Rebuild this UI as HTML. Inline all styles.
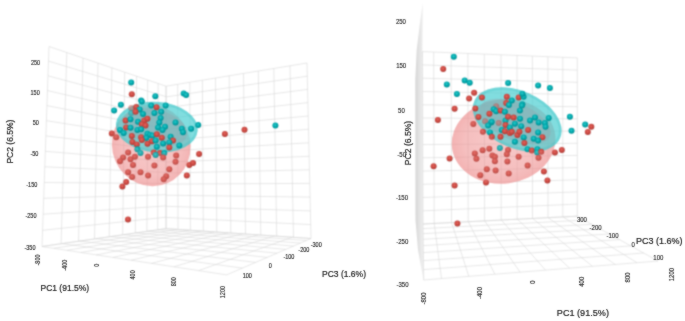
<!DOCTYPE html>
<html><head><meta charset="utf-8"><style>
html,body{margin:0;padding:0;background:#fff;width:685px;height:321px;overflow:hidden}
svg{display:block}
text{font-family:"Liberation Sans",sans-serif;fill:#222}
.tk{fill:#2a2a2a;stroke:#2a2a2a;stroke-width:0.15}
.ax{fill:#222;stroke:#222;stroke-width:0.2}
</style></head><body>
<svg width="685" height="321" viewBox="0 0 685 321">
<defs>
<radialGradient id="gr" cx="0.45" cy="0.4" r="0.6"><stop offset="0" stop-color="#e0625b"/><stop offset="0.55" stop-color="#cc4a43"/><stop offset="1" stop-color="#ab3b35"/></radialGradient>
<radialGradient id="gt" cx="0.45" cy="0.4" r="0.6"><stop offset="0" stop-color="#2cc6c6"/><stop offset="0.55" stop-color="#00aaae"/><stop offset="1" stop-color="#008a8e"/></radialGradient>
<linearGradient id="sl" x1="0" y1="0" x2="1" y2="0"><stop offset="0" stop-color="#d6d6d6"/><stop offset="1" stop-color="#f2f2f2"/></linearGradient>
<clipPath id="cl1"><ellipse cx="156.8" cy="127.3" rx="41" ry="25.3" transform="rotate(4.5 156.8 127.3)" /></clipPath><clipPath id="cr1"><ellipse cx="517.2" cy="119.5" rx="46.7" ry="28.7" transform="rotate(23.4 517.2 119.5)" /></clipPath><mask id="pm" maskUnits="userSpaceOnUse" x="0" y="0" width="685" height="321"><ellipse cx="151.2" cy="145.5" rx="39" ry="41" transform="rotate(-23 151.2 145.5)" fill="#fff"/><ellipse cx="503.6" cy="141.4" rx="52" ry="42.2" transform="rotate(-7.3 503.6 141.4)" fill="#fff"/><ellipse cx="156.8" cy="127.3" rx="41" ry="25.3" transform="rotate(4.5 156.8 127.3)" fill="#000"/><ellipse cx="517.2" cy="119.5" rx="46.7" ry="28.7" transform="rotate(23.4 517.2 119.5)" fill="#000"/></mask>
<radialGradient id="pg" cx="0.5" cy="0.5" r="0.5"><stop offset="0" stop-color="#EC7D7D" stop-opacity="0.37"/><stop offset="0.75" stop-color="#EC7D7D" stop-opacity="0.47"/><stop offset="1" stop-color="#EC7D7D" stop-opacity="0.57"/></radialGradient>
<filter id="bl" x="0" y="0" width="1" height="1" color-interpolation-filters="sRGB"><feConvolveMatrix order="3" kernelMatrix="1 2 1 2 6 2 1 2 1" edgeMode="duplicate"/></filter>
<filter id="bl2" x="-0.1" y="-0.1" width="1.2" height="1.2" color-interpolation-filters="sRGB"><feConvolveMatrix order="3" kernelMatrix="1 2 1 2 30 2 1 2 1" edgeMode="none"/></filter>
</defs>
<rect width="685" height="321" fill="#fff"/>
<g filter="url(#bl)">
<rect width="685" height="321" fill="#fff"/>
<polygon points="422.8,2.8 419.7,25 416.7,50 415.3,80 415.5,220 418,250 423.7,281 423,224 422.5,51.6" fill="url(#sl)"/>
<g stroke="#d4d4d4" stroke-width="0.55"><line x1="49.0" y1="46.5" x2="42.0" y2="246.5"/>
<line x1="66.8" y1="52.5" x2="61.1" y2="243.7"/>
<line x1="83.0" y1="58.1" x2="78.5" y2="241.2"/>
<line x1="98.0" y1="63.1" x2="94.5" y2="238.9"/>
<line x1="111.9" y1="67.8" x2="109.2" y2="236.8"/>
<line x1="124.7" y1="72.2" x2="122.7" y2="234.8"/>
<line x1="136.6" y1="76.2" x2="135.3" y2="233.0"/>
<line x1="147.7" y1="80.0" x2="146.9" y2="231.4"/>
<line x1="158.1" y1="83.5" x2="157.7" y2="229.8"/>
<line x1="166.0" y1="86.2" x2="166.0" y2="228.6"/>
<line x1="49.0" y1="46.5" x2="166.0" y2="86.2"/>
<line x1="48.5" y1="61.1" x2="166.0" y2="96.7"/>
<line x1="48.0" y1="75.8" x2="166.0" y2="107.4"/>
<line x1="47.5" y1="90.6" x2="166.0" y2="118.0"/>
<line x1="46.9" y1="105.6" x2="166.0" y2="128.8"/>
<line x1="46.4" y1="120.7" x2="166.0" y2="139.6"/>
<line x1="45.9" y1="135.9" x2="166.0" y2="150.5"/>
<line x1="45.3" y1="151.3" x2="166.0" y2="161.4"/>
<line x1="44.8" y1="166.8" x2="166.0" y2="172.4"/>
<line x1="44.2" y1="182.5" x2="166.0" y2="183.5"/>
<line x1="43.7" y1="198.3" x2="166.0" y2="194.7"/>
<line x1="43.1" y1="214.2" x2="166.0" y2="205.9"/>
<line x1="42.6" y1="230.3" x2="166.0" y2="217.2"/>
<line x1="42.0" y1="246.5" x2="166.0" y2="228.6"/>
<line x1="166.0" y1="86.2" x2="166.0" y2="228.6"/>
<line x1="177.7" y1="84.3" x2="178.0" y2="229.4"/>
<line x1="189.8" y1="82.3" x2="190.4" y2="230.3"/>
<line x1="202.4" y1="80.2" x2="203.3" y2="231.1"/>
<line x1="215.5" y1="78.0" x2="216.8" y2="232.1"/>
<line x1="229.2" y1="75.8" x2="230.8" y2="233.0"/>
<line x1="243.5" y1="73.5" x2="245.5" y2="234.0"/>
<line x1="258.3" y1="71.0" x2="260.8" y2="235.1"/>
<line x1="273.8" y1="68.5" x2="276.7" y2="236.2"/>
<line x1="290.0" y1="65.8" x2="293.5" y2="237.3"/>
<line x1="307.0" y1="63.0" x2="311.0" y2="238.5"/>
<line x1="166.0" y1="86.2" x2="307.0" y2="63.0"/>
<line x1="166.0" y1="96.9" x2="307.3" y2="76.2"/>
<line x1="166.0" y1="107.7" x2="307.6" y2="89.4"/>
<line x1="166.0" y1="118.5" x2="307.9" y2="102.6"/>
<line x1="166.0" y1="129.3" x2="308.2" y2="116.0"/>
<line x1="166.0" y1="140.2" x2="308.5" y2="129.3"/>
<line x1="166.0" y1="151.1" x2="308.8" y2="142.8"/>
<line x1="166.0" y1="162.1" x2="309.1" y2="156.3"/>
<line x1="166.0" y1="173.1" x2="309.4" y2="169.8"/>
<line x1="166.0" y1="184.1" x2="309.7" y2="183.4"/>
<line x1="166.0" y1="195.2" x2="310.1" y2="197.1"/>
<line x1="166.0" y1="206.3" x2="310.4" y2="210.9"/>
<line x1="166.0" y1="217.4" x2="310.7" y2="224.6"/>
<line x1="166.0" y1="228.6" x2="311.0" y2="238.5"/>
<line x1="166.0" y1="228.6" x2="42.0" y2="246.5"/>
<line x1="177.1" y1="229.4" x2="54.0" y2="248.3"/>
<line x1="188.9" y1="230.2" x2="67.0" y2="250.3"/>
<line x1="201.2" y1="231.0" x2="81.0" y2="252.5"/>
<line x1="214.3" y1="231.9" x2="96.3" y2="254.9"/>
<line x1="228.1" y1="232.8" x2="113.0" y2="257.4"/>
<line x1="242.7" y1="233.8" x2="131.3" y2="260.2"/>
<line x1="258.2" y1="234.9" x2="151.5" y2="263.4"/>
<line x1="274.7" y1="236.0" x2="173.9" y2="266.8"/>
<line x1="292.3" y1="237.2" x2="198.7" y2="270.6"/>
<line x1="311.0" y1="238.5" x2="226.6" y2="274.9"/>
<line x1="42.0" y1="246.5" x2="226.6" y2="274.9"/>
<line x1="61.9" y1="243.6" x2="242.3" y2="268.1"/>
<line x1="79.8" y1="241.0" x2="255.6" y2="262.4"/>
<line x1="95.9" y1="238.7" x2="267.1" y2="257.4"/>
<line x1="110.6" y1="236.6" x2="277.0" y2="253.2"/>
<line x1="124.1" y1="234.7" x2="285.8" y2="249.4"/>
<line x1="136.4" y1="232.9" x2="293.5" y2="246.1"/>
<line x1="147.7" y1="231.2" x2="300.3" y2="243.1"/>
<line x1="158.1" y1="229.7" x2="306.5" y2="240.5"/>
<line x1="166.0" y1="228.6" x2="311.0" y2="238.5"/>
<line x1="422.5" y1="51.6" x2="423.0" y2="224.0"/>
<line x1="433.7" y1="52.1" x2="434.2" y2="223.4"/>
<line x1="451.1" y1="52.8" x2="451.5" y2="222.6"/>
<line x1="467.9" y1="53.4" x2="468.2" y2="221.7"/>
<line x1="484.3" y1="54.1" x2="484.6" y2="220.9"/>
<line x1="501.0" y1="54.8" x2="501.2" y2="220.0"/>
<line x1="517.0" y1="55.4" x2="517.2" y2="219.2"/>
<line x1="532.4" y1="56.1" x2="532.5" y2="218.5"/>
<line x1="547.9" y1="56.7" x2="548.0" y2="217.7"/>
<line x1="562.8" y1="57.3" x2="562.8" y2="216.9"/>
<line x1="577.3" y1="57.9" x2="577.3" y2="216.2"/>
<line x1="422.5" y1="51.6" x2="577.3" y2="57.9"/>
<line x1="422.5" y1="64.9" x2="577.3" y2="70.1"/>
<line x1="422.6" y1="78.2" x2="577.3" y2="82.3"/>
<line x1="422.6" y1="91.5" x2="577.3" y2="94.5"/>
<line x1="422.7" y1="104.8" x2="577.3" y2="106.7"/>
<line x1="422.7" y1="118.0" x2="577.3" y2="118.9"/>
<line x1="422.7" y1="131.3" x2="577.3" y2="131.1"/>
<line x1="422.8" y1="144.6" x2="577.3" y2="143.3"/>
<line x1="422.8" y1="157.8" x2="577.3" y2="155.4"/>
<line x1="422.8" y1="171.1" x2="577.3" y2="167.6"/>
<line x1="422.9" y1="184.3" x2="577.3" y2="179.8"/>
<line x1="422.9" y1="197.5" x2="577.3" y2="191.9"/>
<line x1="423.0" y1="210.8" x2="577.3" y2="204.1"/>
<line x1="423.0" y1="224.0" x2="577.3" y2="216.2"/>
<line x1="423.0" y1="224.0" x2="423.7" y2="280.0"/>
<line x1="434.2" y1="223.4" x2="441.5" y2="278.6"/>
<line x1="451.6" y1="222.6" x2="468.8" y2="276.3"/>
<line x1="468.3" y1="221.7" x2="494.9" y2="274.2"/>
<line x1="484.7" y1="220.9" x2="520.1" y2="272.2"/>
<line x1="501.3" y1="220.0" x2="545.5" y2="270.1"/>
<line x1="517.3" y1="219.2" x2="569.6" y2="268.2"/>
<line x1="532.6" y1="218.5" x2="592.5" y2="266.3"/>
<line x1="548.1" y1="217.7" x2="615.3" y2="264.5"/>
<line x1="562.9" y1="216.9" x2="637.0" y2="262.7"/>
<line x1="577.3" y1="216.2" x2="658.0" y2="261.0"/>
<line x1="423.0" y1="224.0" x2="577.3" y2="216.2"/>
<line x1="423.1" y1="228.6" x2="584.2" y2="220.1"/>
<line x1="423.1" y1="233.7" x2="591.8" y2="224.3"/>
<line x1="423.2" y1="239.3" x2="600.1" y2="228.9"/>
<line x1="423.3" y1="245.6" x2="609.3" y2="234.0"/>
<line x1="423.4" y1="252.6" x2="619.5" y2="239.6"/>
<line x1="423.5" y1="260.6" x2="630.9" y2="245.9"/>
<line x1="423.6" y1="269.6" x2="643.6" y2="253.0"/>
<line x1="423.7" y1="280.0" x2="658.0" y2="261.0"/></g>
<ellipse cx="151.2" cy="145.5" rx="39" ry="41" transform="rotate(-23 151.2 145.5)" fill="url(#pg)"/><ellipse cx="503.6" cy="141.4" rx="52" ry="42.2" transform="rotate(-7.3 503.6 141.4)" fill="url(#pg)"/>
<ellipse cx="156.8" cy="127.3" rx="39.6" ry="23.900000000000002" transform="rotate(4.5 156.8 127.3)" fill="none" stroke="#1aa9ad" stroke-width="2.8" stroke-opacity="0.25"/><ellipse cx="517.2" cy="119.5" rx="45.300000000000004" ry="27.3" transform="rotate(23.4 517.2 119.5)" fill="none" stroke="#1aa9ad" stroke-width="2.8" stroke-opacity="0.25"/><ellipse cx="156.8" cy="127.3" rx="41" ry="25.3" transform="rotate(4.5 156.8 127.3)" fill="#45cdd0" fill-opacity="0.68"/><g clip-path="url(#cl1)"><ellipse cx="155" cy="127.5" rx="33" ry="18" transform="rotate(14 155 127.5)" fill="#9a9aa5" fill-opacity="0.32"/></g><ellipse cx="517.2" cy="119.5" rx="46.7" ry="28.7" transform="rotate(23.4 517.2 119.5)" fill="#45cdd0" fill-opacity="0.68"/><g clip-path="url(#cr1)"><ellipse cx="515" cy="121.5" rx="38" ry="18.5" transform="rotate(23.4 515 121.5)" fill="#9a9aa5" fill-opacity="0.32"/></g>
<circle cx="131.2" cy="108.1" r="3.0" fill="url(#gr)" fill-opacity="0.5"/><circle cx="131.2" cy="113.1" r="3.0" fill="url(#gt)" fill-opacity="0.5"/><circle cx="496.2" cy="106.2" r="3.0" fill="url(#gr)" fill-opacity="0.5"/><circle cx="485.0" cy="121.2" r="3.0" fill="url(#gr)" fill-opacity="0.5"/><circle cx="498.7" cy="123.1" r="3.0" fill="url(#gr)" fill-opacity="0.5"/>
<circle cx="131.2" cy="82.5" r="3.0" fill="url(#gt)"/>
<circle cx="131.8" cy="94.3" r="3.0" fill="url(#gr)"/>
<circle cx="141.1" cy="100.5" r="3.0" fill="url(#gt)"/>
<circle cx="120.9" cy="104.7" r="3.0" fill="url(#gt)"/>
<circle cx="114.1" cy="110.6" r="3.0" fill="url(#gt)"/>
<circle cx="141.8" cy="101.5" r="3.0" fill="url(#gt)"/>
<circle cx="136.2" cy="106.9" r="3.0" fill="url(#gr)"/>
<circle cx="139.7" cy="109.4" r="3.0" fill="url(#gt)"/>
<circle cx="135.5" cy="111.8" r="3.0" fill="url(#gr)"/>
<circle cx="143.0" cy="114.0" r="3.0" fill="url(#gt)"/>
<circle cx="151.2" cy="105.6" r="3.0" fill="url(#gt)"/>
<circle cx="125.6" cy="120.6" r="3.0" fill="url(#gr)"/>
<circle cx="130.5" cy="119.3" r="3.0" fill="url(#gt)"/>
<circle cx="138.0" cy="121.8" r="3.0" fill="url(#gt)"/>
<circle cx="144.3" cy="120.6" r="3.0" fill="url(#gr)"/>
<circle cx="147.4" cy="118.7" r="3.0" fill="url(#gr)"/>
<circle cx="141.8" cy="124.3" r="3.0" fill="url(#gr)"/>
<circle cx="145.5" cy="125.6" r="3.0" fill="url(#gr)"/>
<circle cx="126.2" cy="127.4" r="3.0" fill="url(#gr)"/>
<circle cx="130.5" cy="127.7" r="3.0" fill="url(#gt)"/>
<circle cx="120.0" cy="129.9" r="3.0" fill="url(#gt)"/>
<circle cx="123.7" cy="133.0" r="3.0" fill="url(#gt)"/>
<circle cx="137.4" cy="129.9" r="3.0" fill="url(#gt)"/>
<circle cx="141.1" cy="129.3" r="3.0" fill="url(#gt)"/>
<circle cx="111.8" cy="133.4" r="3.0" fill="url(#gr)"/>
<circle cx="116.2" cy="137.2" r="3.0" fill="url(#gr)"/>
<circle cx="131.8" cy="135.9" r="3.0" fill="url(#gr)"/>
<circle cx="141.1" cy="137.2" r="3.0" fill="url(#gr)"/>
<circle cx="147.4" cy="133.7" r="3.0" fill="url(#gt)"/>
<circle cx="155.3" cy="96.2" r="3.0" fill="url(#gt)"/>
<circle cx="183.7" cy="93.5" r="3.0" fill="url(#gt)"/>
<circle cx="186.1" cy="95.0" r="3.0" fill="url(#gt)"/>
<circle cx="156.5" cy="107.2" r="3.0" fill="url(#gr)"/>
<circle cx="165.6" cy="105.6" r="3.0" fill="url(#gt)"/>
<circle cx="154.4" cy="113.0" r="3.0" fill="url(#gt)"/>
<circle cx="161.2" cy="111.8" r="3.0" fill="url(#gt)"/>
<circle cx="160.6" cy="118.0" r="3.0" fill="url(#gt)"/>
<circle cx="159.3" cy="122.5" r="3.0" fill="url(#gt)"/>
<circle cx="158.1" cy="127.5" r="3.0" fill="url(#gt)"/>
<circle cx="165.0" cy="126.8" r="3.0" fill="url(#gt)"/>
<circle cx="162.5" cy="130.0" r="3.0" fill="url(#gt)"/>
<circle cx="175.5" cy="122.5" r="3.0" fill="url(#gt)"/>
<circle cx="181.8" cy="128.7" r="3.0" fill="url(#gt)"/>
<circle cx="183.0" cy="132.2" r="3.0" fill="url(#gt)"/>
<circle cx="191.1" cy="128.7" r="3.0" fill="url(#gt)"/>
<circle cx="150.0" cy="134.9" r="3.0" fill="url(#gt)"/>
<circle cx="152.5" cy="135.6" r="3.0" fill="url(#gt)"/>
<circle cx="156.8" cy="134.3" r="3.0" fill="url(#gr)"/>
<circle cx="161.8" cy="137.7" r="3.0" fill="url(#gr)"/>
<circle cx="146.2" cy="138.0" r="3.0" fill="url(#gt)"/>
<circle cx="151.9" cy="141.2" r="3.0" fill="url(#gr)"/>
<circle cx="155.6" cy="140.5" r="3.0" fill="url(#gt)"/>
<circle cx="170.6" cy="136.8" r="3.0" fill="url(#gt)"/>
<circle cx="173.0" cy="140.5" r="3.0" fill="url(#gr)"/>
<circle cx="169.3" cy="142.4" r="3.0" fill="url(#gt)"/>
<circle cx="163.1" cy="143.4" r="3.0" fill="url(#gt)"/>
<circle cx="156.8" cy="146.8" r="3.0" fill="url(#gt)"/>
<circle cx="179.3" cy="145.5" r="3.0" fill="url(#gt)"/>
<circle cx="169.3" cy="147.4" r="3.0" fill="url(#gr)"/>
<circle cx="147.5" cy="143.7" r="3.0" fill="url(#gr)"/>
<circle cx="132.4" cy="141.9" r="3.0" fill="url(#gr)"/>
<circle cx="136.8" cy="144.4" r="3.0" fill="url(#gr)"/>
<circle cx="137.4" cy="149.3" r="3.0" fill="url(#gt)"/>
<circle cx="140.5" cy="153.1" r="3.0" fill="url(#gt)"/>
<circle cx="128.1" cy="152.5" r="3.0" fill="url(#gr)"/>
<circle cx="123.1" cy="157.4" r="3.0" fill="url(#gr)"/>
<circle cx="120.0" cy="161.2" r="3.0" fill="url(#gr)"/>
<circle cx="130.5" cy="159.3" r="3.0" fill="url(#gr)"/>
<circle cx="134.9" cy="156.8" r="3.0" fill="url(#gr)"/>
<circle cx="133.0" cy="164.9" r="3.0" fill="url(#gr)"/>
<circle cx="148.0" cy="156.8" r="3.0" fill="url(#gr)"/>
<circle cx="128.1" cy="172.2" r="3.0" fill="url(#gr)"/>
<circle cx="140.5" cy="172.2" r="3.0" fill="url(#gr)"/>
<circle cx="141.8" cy="140.0" r="3.0" fill="url(#gr)"/>
<circle cx="153.7" cy="152.5" r="3.0" fill="url(#gr)"/>
<circle cx="160.0" cy="153.1" r="3.0" fill="url(#gr)"/>
<circle cx="164.3" cy="153.1" r="3.0" fill="url(#gt)"/>
<circle cx="155.6" cy="155.0" r="3.0" fill="url(#gt)"/>
<circle cx="163.1" cy="157.5" r="3.0" fill="url(#gr)"/>
<circle cx="176.2" cy="155.6" r="3.0" fill="url(#gr)"/>
<circle cx="175.5" cy="161.8" r="3.0" fill="url(#gr)"/>
<circle cx="154.4" cy="165.6" r="3.0" fill="url(#gr)"/>
<circle cx="169.3" cy="169.3" r="3.0" fill="url(#gr)"/>
<circle cx="189.3" cy="164.9" r="3.0" fill="url(#gr)"/>
<circle cx="193.0" cy="163.1" r="3.0" fill="url(#gr)"/>
<circle cx="148.1" cy="175.5" r="3.0" fill="url(#gr)"/>
<circle cx="166.2" cy="176.2" r="3.0" fill="url(#gr)"/>
<circle cx="186.8" cy="175.5" r="3.0" fill="url(#gr)"/>
<circle cx="163.7" cy="179.3" r="3.0" fill="url(#gr)"/>
<circle cx="132.1" cy="177.1" r="3.0" fill="url(#gr)"/>
<circle cx="126.2" cy="182.1" r="3.0" fill="url(#gr)"/>
<circle cx="122.4" cy="186.4" r="3.0" fill="url(#gr)"/>
<circle cx="128.0" cy="219.5" r="3.0" fill="url(#gr)"/>
<circle cx="198.2" cy="125.1" r="3.0" fill="url(#gt)"/>
<circle cx="224.9" cy="134.0" r="3.0" fill="url(#gr)"/>
<circle cx="244.5" cy="129.8" r="3.0" fill="url(#gr)"/>
<circle cx="275.4" cy="125.6" r="3.0" fill="url(#gt)"/>
<circle cx="199.1" cy="154.0" r="3.0" fill="url(#gr)"/>
<circle cx="453.8" cy="56.7" r="3.0" fill="url(#gt)"/>
<circle cx="443.2" cy="69.1" r="3.0" fill="url(#gr)"/>
<circle cx="464.7" cy="80.5" r="3.0" fill="url(#gt)"/>
<circle cx="469.7" cy="82.8" r="3.0" fill="url(#gt)"/>
<circle cx="446.8" cy="84.4" r="3.0" fill="url(#gt)"/>
<circle cx="456.9" cy="94.0" r="3.0" fill="url(#gt)"/>
<circle cx="474.1" cy="92.8" r="3.0" fill="url(#gr)"/>
<circle cx="469.1" cy="98.6" r="3.0" fill="url(#gr)"/>
<circle cx="481.9" cy="97.5" r="3.0" fill="url(#gr)"/>
<circle cx="454.6" cy="108.7" r="3.0" fill="url(#gr)"/>
<circle cx="475.3" cy="108.4" r="3.0" fill="url(#gr)"/>
<circle cx="437.9" cy="120.0" r="3.0" fill="url(#gr)"/>
<circle cx="478.4" cy="116.9" r="3.0" fill="url(#gr)"/>
<circle cx="473.3" cy="123.9" r="3.0" fill="url(#gr)"/>
<circle cx="482.9" cy="131.7" r="3.0" fill="url(#gr)"/>
<circle cx="482.6" cy="150.2" r="3.0" fill="url(#gr)"/>
<circle cx="474.8" cy="153.4" r="3.0" fill="url(#gr)"/>
<circle cx="476.4" cy="158.8" r="3.0" fill="url(#gr)"/>
<circle cx="449.6" cy="158.5" r="3.0" fill="url(#gr)"/>
<circle cx="433.6" cy="166.3" r="3.0" fill="url(#gr)"/>
<circle cx="480.3" cy="175.2" r="3.0" fill="url(#gr)"/>
<circle cx="454.6" cy="185.6" r="3.0" fill="url(#gr)"/>
<circle cx="457.4" cy="223.6" r="3.0" fill="url(#gr)"/>
<circle cx="508.1" cy="83.1" r="3.0" fill="url(#gt)"/>
<circle cx="506.8" cy="96.8" r="3.0" fill="url(#gr)"/>
<circle cx="511.8" cy="100.6" r="3.0" fill="url(#gt)"/>
<circle cx="518.7" cy="97.4" r="3.0" fill="url(#gr)"/>
<circle cx="523.6" cy="96.8" r="3.0" fill="url(#gt)"/>
<circle cx="522.4" cy="93.7" r="3.0" fill="url(#gt)"/>
<circle cx="506.2" cy="103.1" r="3.0" fill="url(#gr)"/>
<circle cx="508.9" cy="104.9" r="3.0" fill="url(#gt)"/>
<circle cx="522.4" cy="104.3" r="3.0" fill="url(#gt)"/>
<circle cx="493.7" cy="109.3" r="3.0" fill="url(#gt)"/>
<circle cx="496.2" cy="111.2" r="3.0" fill="url(#gt)"/>
<circle cx="500.6" cy="110.5" r="3.0" fill="url(#gr)"/>
<circle cx="504.9" cy="111.8" r="3.0" fill="url(#gt)"/>
<circle cx="519.9" cy="110.5" r="3.0" fill="url(#gt)"/>
<circle cx="489.4" cy="113.7" r="3.0" fill="url(#gr)"/>
<circle cx="491.2" cy="122.5" r="3.0" fill="url(#gt)"/>
<circle cx="488.1" cy="125.6" r="3.0" fill="url(#gt)"/>
<circle cx="505.5" cy="120.6" r="3.0" fill="url(#gt)"/>
<circle cx="508.0" cy="116.8" r="3.0" fill="url(#gr)"/>
<circle cx="513.6" cy="117.5" r="3.0" fill="url(#gr)"/>
<circle cx="514.9" cy="123.7" r="3.0" fill="url(#gt)"/>
<circle cx="505.5" cy="125.0" r="3.0" fill="url(#gr)"/>
<circle cx="509.9" cy="127.4" r="3.0" fill="url(#gt)"/>
<circle cx="490.0" cy="132.4" r="3.0" fill="url(#gt)"/>
<circle cx="491.8" cy="136.8" r="3.0" fill="url(#gr)"/>
<circle cx="501.8" cy="129.9" r="3.0" fill="url(#gt)"/>
<circle cx="504.9" cy="131.2" r="3.0" fill="url(#gr)"/>
<circle cx="509.9" cy="133.1" r="3.0" fill="url(#gr)"/>
<circle cx="511.8" cy="131.8" r="3.0" fill="url(#gr)"/>
<circle cx="500.5" cy="136.8" r="3.0" fill="url(#gr)"/>
<circle cx="517.4" cy="134.9" r="3.0" fill="url(#gr)"/>
<circle cx="514.9" cy="141.8" r="3.0" fill="url(#gt)"/>
<circle cx="538.1" cy="85.6" r="3.0" fill="url(#gt)"/>
<circle cx="549.9" cy="88.1" r="3.0" fill="url(#gt)"/>
<circle cx="521.9" cy="105.6" r="3.0" fill="url(#gt)"/>
<circle cx="520.0" cy="118.7" r="3.0" fill="url(#gt)"/>
<circle cx="530.0" cy="120.5" r="3.0" fill="url(#gt)"/>
<circle cx="535.0" cy="117.4" r="3.0" fill="url(#gt)"/>
<circle cx="538.7" cy="122.4" r="3.0" fill="url(#gt)"/>
<circle cx="548.7" cy="118.0" r="3.0" fill="url(#gt)"/>
<circle cx="544.9" cy="123.0" r="3.0" fill="url(#gt)"/>
<circle cx="545.5" cy="126.8" r="3.0" fill="url(#gt)"/>
<circle cx="521.2" cy="126.2" r="3.0" fill="url(#gt)"/>
<circle cx="528.1" cy="130.0" r="3.0" fill="url(#gr)"/>
<circle cx="519.4" cy="131.8" r="3.0" fill="url(#gr)"/>
<circle cx="523.7" cy="137.4" r="3.0" fill="url(#gt)"/>
<circle cx="538.1" cy="132.5" r="3.0" fill="url(#gt)"/>
<circle cx="542.4" cy="137.2" r="3.0" fill="url(#gr)"/>
<circle cx="533.7" cy="138.7" r="3.0" fill="url(#gt)"/>
<circle cx="538.1" cy="140.6" r="3.0" fill="url(#gt)"/>
<circle cx="524.4" cy="143.1" r="3.0" fill="url(#gr)"/>
<circle cx="527.5" cy="149.3" r="3.0" fill="url(#gt)"/>
<circle cx="531.8" cy="150.5" r="3.0" fill="url(#gr)"/>
<circle cx="537.4" cy="149.3" r="3.0" fill="url(#gt)"/>
<circle cx="537.2" cy="152.4" r="3.0" fill="url(#gt)"/>
<circle cx="541.2" cy="151.8" r="3.0" fill="url(#gr)"/>
<circle cx="554.9" cy="152.4" r="3.0" fill="url(#gr)"/>
<circle cx="561.8" cy="149.9" r="3.0" fill="url(#gr)"/>
<circle cx="499.9" cy="148.1" r="3.0" fill="url(#gt)"/>
<circle cx="489.3" cy="148.7" r="3.0" fill="url(#gr)"/>
<circle cx="492.4" cy="155.6" r="3.0" fill="url(#gr)"/>
<circle cx="494.9" cy="156.8" r="3.0" fill="url(#gr)"/>
<circle cx="508.0" cy="150.0" r="3.0" fill="url(#gr)"/>
<circle cx="506.8" cy="154.3" r="3.0" fill="url(#gr)"/>
<circle cx="494.9" cy="161.2" r="3.0" fill="url(#gr)"/>
<circle cx="507.4" cy="161.4" r="3.0" fill="url(#gr)"/>
<circle cx="518.6" cy="156.8" r="3.0" fill="url(#gr)"/>
<circle cx="486.8" cy="169.3" r="3.0" fill="url(#gr)"/>
<circle cx="495.6" cy="170.5" r="3.0" fill="url(#gr)"/>
<circle cx="508.7" cy="173.4" r="3.0" fill="url(#gr)"/>
<circle cx="527.6" cy="165.6" r="3.0" fill="url(#gr)"/>
<circle cx="538.5" cy="157.8" r="3.0" fill="url(#gr)"/>
<circle cx="543.9" cy="171.5" r="3.0" fill="url(#gr)"/>
<circle cx="547.4" cy="180.4" r="3.0" fill="url(#gr)"/>
<circle cx="569.9" cy="116.8" r="3.0" fill="url(#gt)"/>
<circle cx="571.5" cy="130.8" r="3.0" fill="url(#gt)"/>
<circle cx="585.2" cy="124.6" r="3.0" fill="url(#gt)"/>
<circle cx="591.3" cy="126.8" r="3.0" fill="url(#gr)"/>
<circle cx="587.8" cy="131.9" r="3.0" fill="url(#gr)"/>
<circle cx="491.7" cy="121.8" r="3.0" fill="url(#gt)"/>
<circle cx="486.0" cy="182.5" r="3.0" fill="url(#gr)"/>
<rect x="0" y="0" width="685" height="321" fill="#f3b0ad" fill-opacity="0.15" mask="url(#pm)"/>
</g>
<g filter="url(#bl2)">
<text class="tk" transform="translate(40.1 62.9) scale(0.85 1)" font-size="6.5" text-anchor="end" dominant-baseline="central">250</text>
<text class="tk" transform="translate(39.7 92.8) scale(0.85 1)" font-size="6.5" text-anchor="end" dominant-baseline="central">150</text>
<text class="tk" transform="translate(38.900000000000006 123.3) scale(0.85 1)" font-size="6.5" text-anchor="end" dominant-baseline="central">50</text>
<text class="tk" transform="translate(38.400000000000006 153.8) scale(0.85 1)" font-size="6.5" text-anchor="end" dominant-baseline="central">-50</text>
<text class="tk" transform="translate(37.300000000000004 184.60000000000002) scale(0.85 1)" font-size="6.5" text-anchor="end" dominant-baseline="central">-150</text>
<text class="tk" transform="translate(36.5 215.8) scale(0.85 1)" font-size="6.5" text-anchor="end" dominant-baseline="central">-250</text>
<text class="tk" transform="translate(35.5 247.5) scale(0.85 1)" font-size="6.5" text-anchor="end" dominant-baseline="central">-350</text>
<text class="ax" transform="translate(9.5 141.6) rotate(-90)" font-size="8.5" text-anchor="middle" dominant-baseline="central">PC2 (6.5%)</text>
<text class="tk" transform="translate(37.5 260) rotate(-90) scale(0.85 1)" font-size="6.5" text-anchor="middle" dominant-baseline="central">-800</text>
<text class="tk" transform="translate(65.2 265.2) rotate(-90) scale(0.85 1)" font-size="6.5" text-anchor="middle" dominant-baseline="central">-400</text>
<text class="tk" transform="translate(96.7 265.2) rotate(-90) scale(0.85 1)" font-size="6.5" text-anchor="middle" dominant-baseline="central">0</text>
<text class="tk" transform="translate(132.5 274.9) rotate(-90) scale(0.85 1)" font-size="6.5" text-anchor="middle" dominant-baseline="central">400</text>
<text class="tk" transform="translate(174.3 281.7) rotate(-90) scale(0.85 1)" font-size="6.5" text-anchor="middle" dominant-baseline="central">800</text>
<text class="tk" transform="translate(222.4 292.1) rotate(-90) scale(0.85 1)" font-size="6.5" text-anchor="middle" dominant-baseline="central">1200</text>
<text class="ax" transform="translate(64.8 288)" font-size="8.5" text-anchor="middle" dominant-baseline="central">PC1 (91.5%)</text>
<text class="tk" transform="translate(316.2 244.5) scale(0.85 1)" font-size="6.5" text-anchor="middle" dominant-baseline="central">-300</text>
<text class="tk" transform="translate(303.8 249.8) scale(0.85 1)" font-size="6.5" text-anchor="middle" dominant-baseline="central">-200</text>
<text class="tk" transform="translate(288.9 257.1) scale(0.85 1)" font-size="6.5" text-anchor="middle" dominant-baseline="central">-100</text>
<text class="tk" transform="translate(270.2 265.6) scale(0.85 1)" font-size="6.5" text-anchor="middle" dominant-baseline="central">0</text>
<text class="tk" transform="translate(247.3 276) scale(0.85 1)" font-size="6.5" text-anchor="middle" dominant-baseline="central">100</text>
<text class="ax" transform="translate(344 273.8)" font-size="8.5" text-anchor="middle" dominant-baseline="central">PC3 (1.6%)</text>
<text class="tk" transform="translate(400.9 20.9) scale(0.85 1)" font-size="7.1" text-anchor="middle" dominant-baseline="central">250</text>
<text class="tk" transform="translate(401.17 65.3) scale(0.85 1)" font-size="7.1" text-anchor="middle" dominant-baseline="central">150</text>
<text class="tk" transform="translate(401.43 110) scale(0.85 1)" font-size="7.1" text-anchor="middle" dominant-baseline="central">50</text>
<text class="tk" transform="translate(401.7 154) scale(0.85 1)" font-size="7.1" text-anchor="middle" dominant-baseline="central">-50</text>
<text class="tk" transform="translate(401.96 197.7) scale(0.85 1)" font-size="7.1" text-anchor="middle" dominant-baseline="central">-150</text>
<text class="tk" transform="translate(402.22 241.5) scale(0.85 1)" font-size="7.1" text-anchor="middle" dominant-baseline="central">-250</text>
<text class="tk" transform="translate(402.48 284.6) scale(0.85 1)" font-size="7.1" text-anchor="middle" dominant-baseline="central">-350</text>
<text class="ax" transform="translate(408 143) rotate(-90)" font-size="8.6" text-anchor="middle" dominant-baseline="central">PC2 (6.5%)</text>
<text class="tk" transform="translate(423.7 298.5) rotate(-90) scale(0.85 1)" font-size="7.1" text-anchor="middle" dominant-baseline="central">-800</text>
<text class="tk" transform="translate(479.5 293) rotate(-90) scale(0.85 1)" font-size="7.1" text-anchor="middle" dominant-baseline="central">-400</text>
<text class="tk" transform="translate(532 282) rotate(-90) scale(0.85 1)" font-size="7.1" text-anchor="middle" dominant-baseline="central">0</text>
<text class="tk" transform="translate(581.1 281.8) rotate(-90) scale(0.85 1)" font-size="7.1" text-anchor="middle" dominant-baseline="central">400</text>
<text class="tk" transform="translate(627.3 277.4) rotate(-90) scale(0.85 1)" font-size="7.1" text-anchor="middle" dominant-baseline="central">800</text>
<text class="tk" transform="translate(671 274.6) rotate(-90) scale(0.85 1)" font-size="7.1" text-anchor="middle" dominant-baseline="central">1200</text>
<text class="ax" transform="translate(582.9 312.5)" font-size="9.1" text-anchor="middle" dominant-baseline="central">PC1 (91.5%)</text>
<text class="tk" transform="translate(581.9 219.0) scale(0.85 1)" font-size="7.1" text-anchor="middle" dominant-baseline="central">300</text>
<text class="tk" transform="translate(595.6 227) scale(0.85 1)" font-size="7.1" text-anchor="middle" dominant-baseline="central">-200</text>
<text class="tk" transform="translate(612.5 234.9) scale(0.85 1)" font-size="7.1" text-anchor="middle" dominant-baseline="central">-100</text>
<text class="tk" transform="translate(633.2 244.6) scale(0.85 1)" font-size="7.1" text-anchor="middle" dominant-baseline="central">0</text>
<text class="tk" transform="translate(658.3 257.6) scale(0.85 1)" font-size="7.1" text-anchor="middle" dominant-baseline="central">100</text>
<text class="ax" transform="translate(659.2 240.9)" font-size="9.0" text-anchor="middle" dominant-baseline="central">PC3 (1.6%)</text>
</g>
</svg>
</body></html>
